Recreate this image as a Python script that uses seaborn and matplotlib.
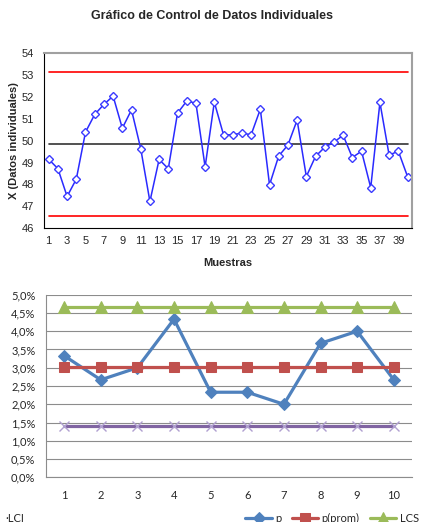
import matplotlib
matplotlib.use('Agg')
import matplotlib.pyplot as plt
import seaborn as sns
import numpy as np

# Top chart data: individual values
muestras = list(range(1, 41))
datos = [49.15, 48.72, 47.45, 48.24, 50.39, 51.20, 51.66, 52.04, 50.57, 51.41,
         49.64, 47.22, 49.14, 48.72, 51.26, 51.81, 51.72, 48.80, 51.76, 50.27,
         50.27, 50.35, 50.27, 51.44, 47.98, 49.30, 49.80, 50.94, 48.36, 49.28,
         49.70, 49.93, 50.25, 49.23, 49.52, 47.85, 51.75, 49.34, 49.52, 48.36]
ucl = 53.13
centro = 49.85
lcl = 46.57

# Bottom chart data: proportions (%)
lotes = list(range(1, 11))
p = [3.33, 2.67, 3.00, 4.33, 2.33, 2.33, 2.00, 3.67, 4.00, 2.67]
p_prom = 3.03
lcs = 4.66
lci = 1.41
yticks_p = [0.0, 0.5, 1.0, 1.5, 2.0, 2.5, 3.0, 3.5, 4.0, 4.5, 5.0]
ytick_labels_p = ['0,0%', '0,5%', '1,0%', '1,5%', '2,0%', '2,5%', '3,0%',
                  '3,5%', '4,0%', '4,5%', '5,0%']

sns.set_style('white')
plt.rcParams['font.family'] = ['Liberation Sans', 'DejaVu Sans']

fig = plt.figure(figsize=(4.24, 5.22), dpi=100)

# 1 - Individual values chart
ax1 = fig.add_axes([0.104, 0.563, 0.868, 0.335])
sns.lineplot(x=muestras, y=[ucl] * 40, color='#ff0000', lw=1.2, ax=ax1)
sns.lineplot(x=muestras, y=[lcl] * 40, color='#ff0000', lw=1.2, ax=ax1)
sns.lineplot(x=muestras, y=[centro] * 40, color='#333333', lw=1.2, ax=ax1)
sns.lineplot(x=muestras, y=datos, color='#2a2aff', lw=1.1, marker='D', ms=4.5,
             markerfacecolor='white', markeredgecolor='#3b3bff', markeredgewidth=1.0, ax=ax1)
ax1.set_xlim(0.5, 40.5)
ax1.set_ylim(46, 54)
ax1.set_yticks(range(46, 55))
ax1.set_xticks(np.arange(0.5, 41, 1))
ax1.set_xticklabels([])
ax1.set_xticks(muestras[::2], minor=True)
ax1.set_xticklabels([str(m) for m in muestras[::2]], minor=True)
ax1.tick_params(axis='x', which='major', direction='out', length=4, color='black', width=0.8)
ax1.tick_params(axis='x', which='minor', length=0, labelsize=8, pad=6)
ax1.tick_params(axis='y', direction='out', length=4, color='black', width=0.8, labelsize=8)
ax1.spines['left'].set_color('black')
ax1.spines['bottom'].set_color('black')
ax1.spines['top'].set_color('#a0a0a0')
ax1.spines['right'].set_color('#a0a0a0')
ax1.spines['right'].set_linewidth(1.5)
ax1.spines['top'].set_linewidth(1.5)
ax1.set_xlabel('Muestras', fontsize=8, fontweight='bold', labelpad=8)
ax1.set_ylabel('X (Datos individuales)', fontsize=8, fontweight='bold', labelpad=2)
fig.text(0.5, 0.97, 'Gráfico de Control de Datos Individuales', ha='center', va='center',
         fontsize=9, fontweight='bold')

# 2 - Proportion chart
ax2 = fig.add_axes([0.108, 0.0856, 0.864, 0.3498])
l_p = sns.lineplot(x=lotes, y=p, color='#4f81bd', lw=2.3, marker='D', ms=6,
                   markeredgecolor='#4f81bd', ax=ax2, label='p')
sns.lineplot(x=lotes, y=[p_prom] * 10, color='#c0504d', lw=2.3, marker='s', ms=7,
             markeredgecolor='#c0504d', ax=ax2, label='p(prom)')
sns.lineplot(x=lotes, y=[lcs] * 10, color='#9bbb59', lw=2.3, marker='^', ms=8,
             markeredgecolor='#9bbb59', ax=ax2, label='LCS')
sns.lineplot(x=lotes, y=[lci] * 10, color='#8064a2', lw=2.3, marker='x', ms=7,
             markeredgecolor='#b0a0d0', markeredgewidth=1.0, ax=ax2, label='LCI')
ax2.set_xlim(0.5, 10.5)
ax2.set_ylim(0, 5)
ax2.set_yticks(yticks_p)
ax2.set_yticklabels(ytick_labels_p, family=['Lato', 'DejaVu Sans'])
ax2.yaxis.grid(True, color='#8c8c8c', lw=0.8)
ax2.set_axisbelow(True)
ax2.set_xticks(np.arange(0.5, 11, 1))
ax2.set_xticklabels([])
ax2.set_xticks(lotes, minor=True)
ax2.set_xticklabels([str(l) for l in lotes], minor=True, family=['Lato', 'DejaVu Sans'])
ax2.tick_params(axis='x', which='major', direction='out', length=4, color='#8c8c8c', width=0.8)
ax2.tick_params(axis='x', which='minor', length=0, labelsize=8, pad=9)
ax2.tick_params(axis='y', direction='out', length=4, color='#8c8c8c', width=0.8, labelsize=8)
for s in ['top', 'right']:
    ax2.spines[s].set_visible(False)
for s in ['left', 'bottom']:
    ax2.spines[s].set_color('#8c8c8c')
    ax2.spines[s].set_linewidth(0.8)
ax2.set_xlabel('')
ax2.set_ylabel('')

handles, labels = ax2.get_legend_handles_labels()
ax2.get_legend().remove()
fig.legend(handles, labels, loc='center left', bbox_to_anchor=(0.555, 0.007), ncol=4,
           frameon=False, fontsize=8, handlelength=2.4, handletextpad=0.3,
           columnspacing=0.9, prop={'family': ['Lato', 'DejaVu Sans'], 'size': 8})
fig.text(0.012, 0.007, '·LCI', ha='left', va='center', fontsize=8, family=['Lato', 'DejaVu Sans'])

fig.savefig('out.png', dpi=100)
